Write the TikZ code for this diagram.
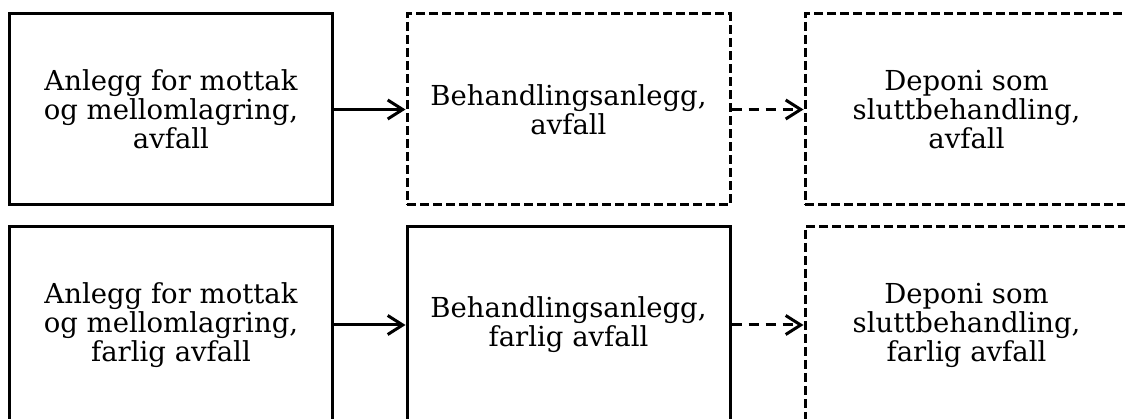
\documentclass[tikz,border=0pt]{standalone}
\usepackage{fontspec}
\setmainfont{DejaVu Serif}
\usetikzlibrary{arrows.meta}
\begin{document}
\begin{tikzpicture}[x=1pt,y=-1pt,
  stage/.style={draw,line width=3pt,minimum width=323pt,align=center,
    inner sep=0pt,font=\fontsize{27.5}{29}\selectfont},
  planned/.style={stage,dash pattern=on 9pt off 4pt},
  toprow/.style={minimum height=191pt},
  botrow/.style={minimum height=196pt},
  flow/.style={line width=3pt,-{Straight Barb[length=15pt,width=19pt,line width=3pt]}},
  dflow/.style={flow,dash pattern=on 10pt off 7pt}]
\useasboundingbox (0,0) rectangle (1125,419);
\clip (0,0) rectangle (1125,419);
% ordinary waste
\node[stage,toprow]   (r1) at (171,109.5)   {Anlegg for mottak\\og mellomlagring,\\avfall};
\node[planned,toprow] (t1) at (568.5,109.5) {Behandlingsanlegg,\\avfall};
\node[planned,toprow] (d1) at (966.5,109.5) {Deponi som\\sluttbehandling,\\avfall};
% hazardous waste
\node[stage,botrow]   (r2) at (171,325)   {Anlegg for mottak\\og mellomlagring,\\farlig avfall};
\node[stage,botrow]   (t2) at (568.5,325) {Behandlingsanlegg,\\farlig avfall};
\node[planned,botrow] (d2) at (966.5,325) {Deponi som\\sluttbehandling,\\farlig avfall};
% flows
\draw[flow]  (r1) -- (t1);
\draw[dflow] (t1) -- (d1);
\draw[flow]  (r2) -- (t2);
\draw[dflow] (t2) -- (d2);
\end{tikzpicture}
\end{document}
